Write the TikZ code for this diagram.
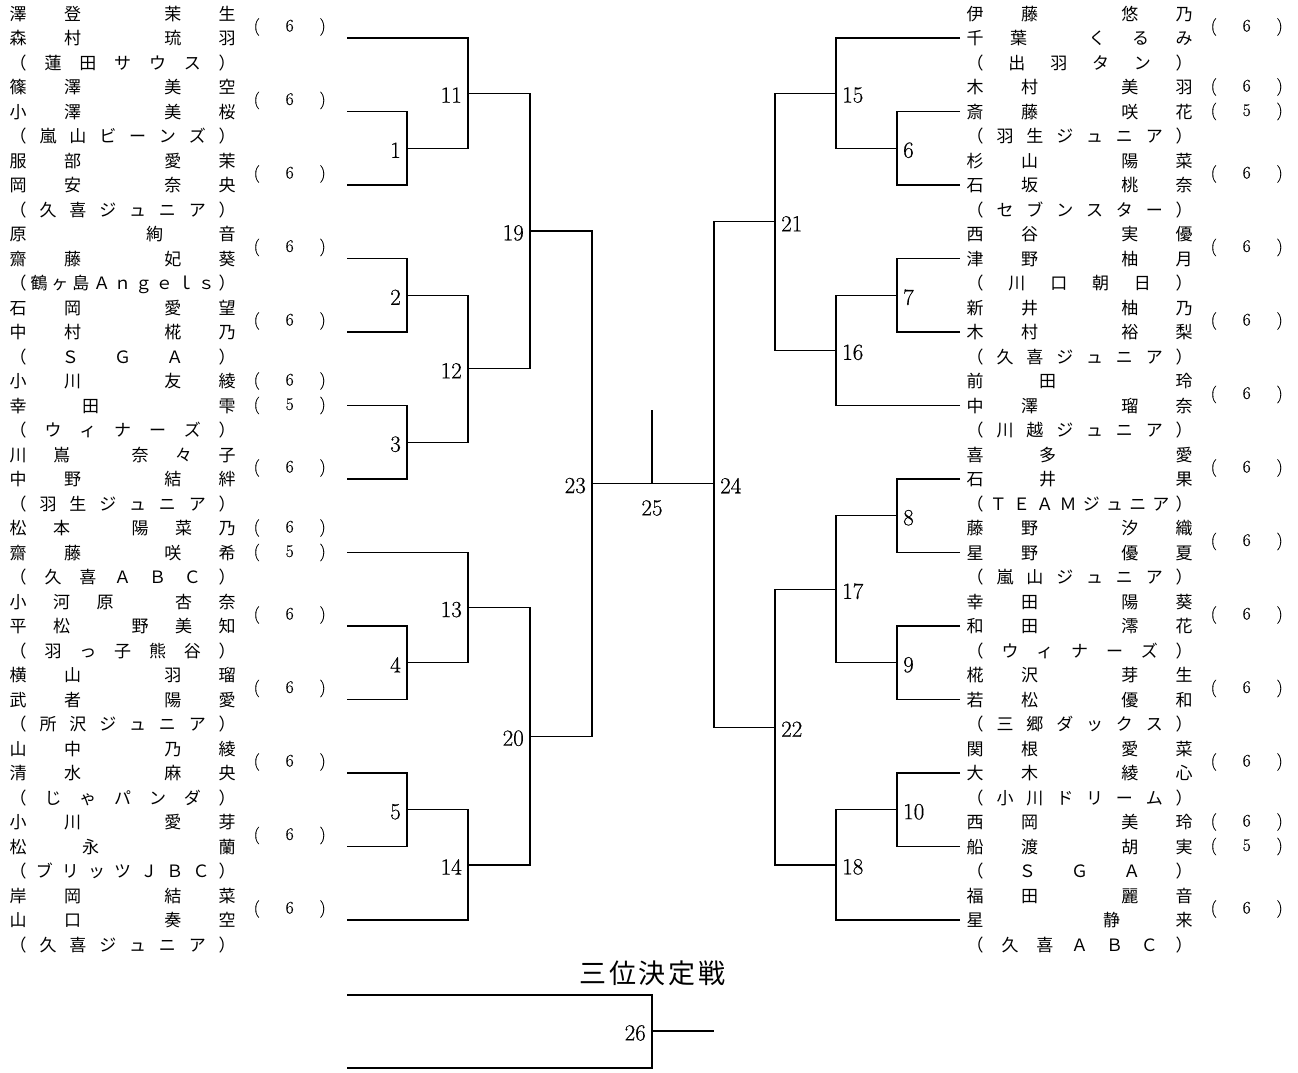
\documentclass[tikz,border=0pt]{standalone}
\usepackage{fontspec}
\newfontfamily\jp{Noto Sans CJK JP}
\newfontfamily\lmfb{Latin Modern Roman}[FakeBold=0.5]
\usetikzlibrary{calc}
\ExplSyntaxOn
\bool_new:N \l_my_first_bool
\cs_new_protected:Npn \my_spread:n #1
  {
    \bool_set_true:N \l_my_first_bool
    \tl_map_inline:nn {#1}
      {
        \bool_if:NF \l_my_first_bool { \hfill }
        \bool_set_false:N \l_my_first_bool
        ##1
      }
  }
\NewDocumentCommand \spreadchars { m } { \my_spread:n {#1} }
\ExplSyntaxOff
\newcommand\nmline[2]{\hbox to 226pt{\spreadchars{#1}\hskip .5em plus 2fill\relax\spreadchars{#2}}}
\newcommand\tmline[1]{\hbox to 226pt{\spreadchars{#1}}}
\newcommand\scline[1]{\hbox to 72pt{(\hfill #1\hfill)}}
\tikzset{
  nm/.style={anchor=west, inner sep=0pt, font=\jp\fontsize{17}{17}\selectfont, text height=15pt, text depth=2pt},
  sc/.style={anchor=west, inner sep=0pt, font=\lmfb\fontsize{17.5}{17.5}\selectfont, text height=13.1pt, text depth=4.4pt},
  labL/.style={anchor=east, inner sep=0pt, xshift=-6pt, yshift=-2pt, font=\lmfb\fontsize{23}{23}\selectfont},
  labR/.style={anchor=west, inner sep=0pt, xshift=6pt, yshift=-2pt, font=\lmfb\fontsize{23}{23}\selectfont},
  bracket/.style={draw=black, line width=1.2pt},
}
\newcommand\entry[8]{%
  \node[nm] (#1a) at (#2,{38+73.5*(#3-1)-24.5}) {\nmline{#4}{#5}};
  \node[nm] (#1b) at (#2,{38+73.5*(#3-1)}) {\nmline{#6}{#7}};
  \node[nm] (#1c) at (#2,{38+73.5*(#3-1)+24.5}) {\tmline{#8}};
}
\newcommand\scA[4]{\node[sc] (#1s) at (#2,{38+73.5*(#3-1)-11}) {\scline{#4}};}
\newcommand\scB[5]{%
  \node[sc] (#1s) at (#2,{38+73.5*(#3-1)-24.5}) {\scline{#4}};
  \node[sc] (#1t) at (#2,{38+73.5*(#3-1)}) {\scline{#5}};}
\begin{document}
\begin{tikzpicture}[x=1pt,y=-1pt]
\useasboundingbox (0,0) rectangle (1298,1072);
% leaf coordinates
\foreach \k in {1,...,13}{
  \coordinate (L\k) at (347,{38+73.5*(\k-1)});
  \coordinate (R\k) at (960,{38+73.5*(\k-1)});
}
% match points left
\coordinate (m1) at (407,148.25);
\coordinate (m2) at (407,295.25);
\coordinate (m3) at (407,442.25);
\coordinate (m4) at (407,662.75);
\coordinate (m5) at (407,809.75);
\coordinate (m11) at (468,93.1);
\coordinate (m12) at (468,368.75);
\coordinate (m13) at (468,607.6);
\coordinate (m14) at (468,864.9);
\coordinate (m19) at (530,230.9);
\coordinate (m20) at (530,736.25);
\coordinate (m23) at (592,483.6);
% match points right
\coordinate (m6) at (897,148.25);
\coordinate (m7) at (897,295.25);
\coordinate (m8) at (897,515.75);
\coordinate (m9) at (897,662.75);
\coordinate (m10) at (897,809.75);
\coordinate (m15) at (836,93.1);
\coordinate (m16) at (836,350.4);
\coordinate (m17) at (836,589.25);
\coordinate (m18) at (836,864.9);
\coordinate (m21) at (775,221.75);
\coordinate (m22) at (775,727.1);
\coordinate (m24) at (714,483.6);
\coordinate (m25) at (652,483.6);
\coordinate (champ) at (652,410);
% third place
\coordinate (T1) at (347,995);
\coordinate (T2) at (347,1068);
\coordinate (m26) at (652,1031);
\coordinate (w26) at (714,1031);

% left bracket
\draw[bracket] (L2) -| (m1) (L3) -| (m1);
\draw[bracket] (L4) -| (m2) (L5) -| (m2);
\draw[bracket] (L6) -| (m3) (L7) -| (m3);
\draw[bracket] (L9) -| (m4) (L10) -| (m4);
\draw[bracket] (L11) -| (m5) (L12) -| (m5);
\draw[bracket] (L1) -| (m11) (m1) -| (m11);
\draw[bracket] (m2) -| (m12) (m3) -| (m12);
\draw[bracket] (L8) -| (m13) (m4) -| (m13);
\draw[bracket] (m5) -| (m14) (L13) -| (m14);
\draw[bracket] (m11) -| (m19) (m12) -| (m19);
\draw[bracket] (m13) -| (m20) (m14) -| (m20);
\draw[bracket] (m19) -| (m23) (m20) -| (m23);
% right bracket
\draw[bracket] (R2) -| (m6) (R3) -| (m6);
\draw[bracket] (R4) -| (m7) (R5) -| (m7);
\draw[bracket] (R7) -| (m8) (R8) -| (m8);
\draw[bracket] (R9) -| (m9) (R10) -| (m9);
\draw[bracket] (R11) -| (m10) (R12) -| (m10);
\draw[bracket] (R1) -| (m15) (m6) -| (m15);
\draw[bracket] (m7) -| (m16) (R6) -| (m16);
\draw[bracket] (m8) -| (m17) (m9) -| (m17);
\draw[bracket] (m10) -| (m18) (R13) -| (m18);
\draw[bracket] (m15) -| (m21) (m16) -| (m21);
\draw[bracket] (m17) -| (m22) (m18) -| (m22);
\draw[bracket] (m21) -| (m24) (m22) -| (m24);
% final
\draw[bracket] (m23) -- (m24);
\draw[bracket] (m25) -- (champ);
% third place
\draw[bracket] (T1) -| (m26) (T2) -| (m26);
\draw[bracket] (m26) -- (w26);

% match labels
\foreach \m in {1,2,3,4,5,11,12,13,14,19,20,23,26}{\node[labL] (n\m) at (m\m) {\m};}
\foreach \m in {6,7,8,9,10,15,16,17,18,21,22,24}{\node[labR] (n\m) at (m\m) {\m};}
\node[font=\lmfb\fontsize{23}{23}\selectfont, inner sep=0pt] (n25) at (652,508) {25};
\node[font=\jp\fontsize{27}{27}\selectfont, inner sep=0pt] (title3) at (652.5,973) {\hbox to 146pt{三\hfill 位\hfill 決\hfill 定\hfill 戦}};

% left entries
\entry{La}{9.5}{1}{澤登}{茉生}{森村}{琉羽}{（蓮田サウス）}\scA{La}{253.5}{1}{6}
\entry{Lb}{9.5}{2}{篠澤}{美空}{小澤}{美桜}{（嵐山ビーンズ）}\scA{Lb}{253.5}{2}{6}
\entry{Lc}{9.5}{3}{服部}{愛茉}{岡安}{奈央}{（久喜ジュニア）}\scA{Lc}{253.5}{3}{6}
\entry{Ld}{9.5}{4}{原}{絢音}{齋藤}{妃葵}{（鶴ヶ島Ａｎｇｅｌｓ）}\scA{Ld}{253.5}{4}{6}
\entry{Le}{9.5}{5}{石岡}{愛望}{中村}{椛乃}{（ＳＧＡ）}\scA{Le}{253.5}{5}{6}
\entry{Lf}{9.5}{6}{小川}{友綾}{幸田}{雫}{（ウィナーズ）}\scB{Lf}{253.5}{6}{6}{5}
\entry{Lg}{9.5}{7}{川嶌}{奈々子}{中野}{結絆}{（羽生ジュニア）}\scA{Lg}{253.5}{7}{6}
\entry{Lh}{9.5}{8}{松本}{陽菜乃}{齋藤}{咲希}{（久喜ＡＢＣ）}\scB{Lh}{253.5}{8}{6}{5}
\entry{Li}{9.5}{9}{小河原}{杏奈}{平松}{野美知}{（羽っ子熊谷）}\scA{Li}{253.5}{9}{6}
\entry{Lj}{9.5}{10}{横山}{羽瑠}{武者}{陽愛}{（所沢ジュニア）}\scA{Lj}{253.5}{10}{6}
\entry{Lk}{9.5}{11}{山中}{乃綾}{清水}{麻央}{（じゃパンダ）}\scA{Lk}{253.5}{11}{6}
\entry{Ll}{9.5}{12}{小川}{愛芽}{松永}{蘭}{（ブリッツＪＢＣ）}\scA{Ll}{253.5}{12}{6}
\entry{Lm}{9.5}{13}{岸岡}{結菜}{山口}{奏空}{（久喜ジュニア）}\scA{Lm}{253.5}{13}{6}
% right entries
\entry{Ra}{966.5}{1}{伊藤}{悠乃}{千葉}{くるみ}{（出羽タン）}\scA{Ra}{1210.5}{1}{6}
\entry{Rb}{966.5}{2}{木村}{美羽}{斎藤}{咲花}{（羽生ジュニア）}\scB{Rb}{1210.5}{2}{6}{5}
\entry{Rc}{966.5}{3}{杉山}{陽菜}{石坂}{桃奈}{（セブンスター）}\scA{Rc}{1210.5}{3}{6}
\entry{Rd}{966.5}{4}{西谷}{実優}{津野}{柚月}{（川口朝日）}\scA{Rd}{1210.5}{4}{6}
\entry{Re}{966.5}{5}{新井}{柚乃}{木村}{裕梨}{（久喜ジュニア）}\scA{Re}{1210.5}{5}{6}
\entry{Rf}{966.5}{6}{前田}{玲}{中澤}{瑠奈}{（川越ジュニア）}\scA{Rf}{1210.5}{6}{6}
\entry{Rg}{966.5}{7}{喜多}{愛}{石井}{果}{（ＴＥＡＭジュニア）}\scA{Rg}{1210.5}{7}{6}
\entry{Rh}{966.5}{8}{藤野}{汐織}{星野}{優夏}{（嵐山ジュニア）}\scA{Rh}{1210.5}{8}{6}
\entry{Ri}{966.5}{9}{幸田}{陽葵}{和田}{澪花}{（ウィナーズ）}\scA{Ri}{1210.5}{9}{6}
\entry{Rj}{966.5}{10}{椛沢}{芽生}{若松}{優和}{（三郷ダックス）}\scA{Rj}{1210.5}{10}{6}
\entry{Rk}{966.5}{11}{関根}{愛菜}{大木}{綾心}{（小川ドリーム）}\scA{Rk}{1210.5}{11}{6}
\entry{Rl}{966.5}{12}{西岡}{美玲}{船渡}{胡実}{（ＳＧＡ）}\scB{Rl}{1210.5}{12}{6}{5}
\entry{Rm}{966.5}{13}{福田}{麗音}{星}{静来}{（久喜ＡＢＣ）}\scA{Rm}{1210.5}{13}{6}
\end{tikzpicture}
\end{document}
